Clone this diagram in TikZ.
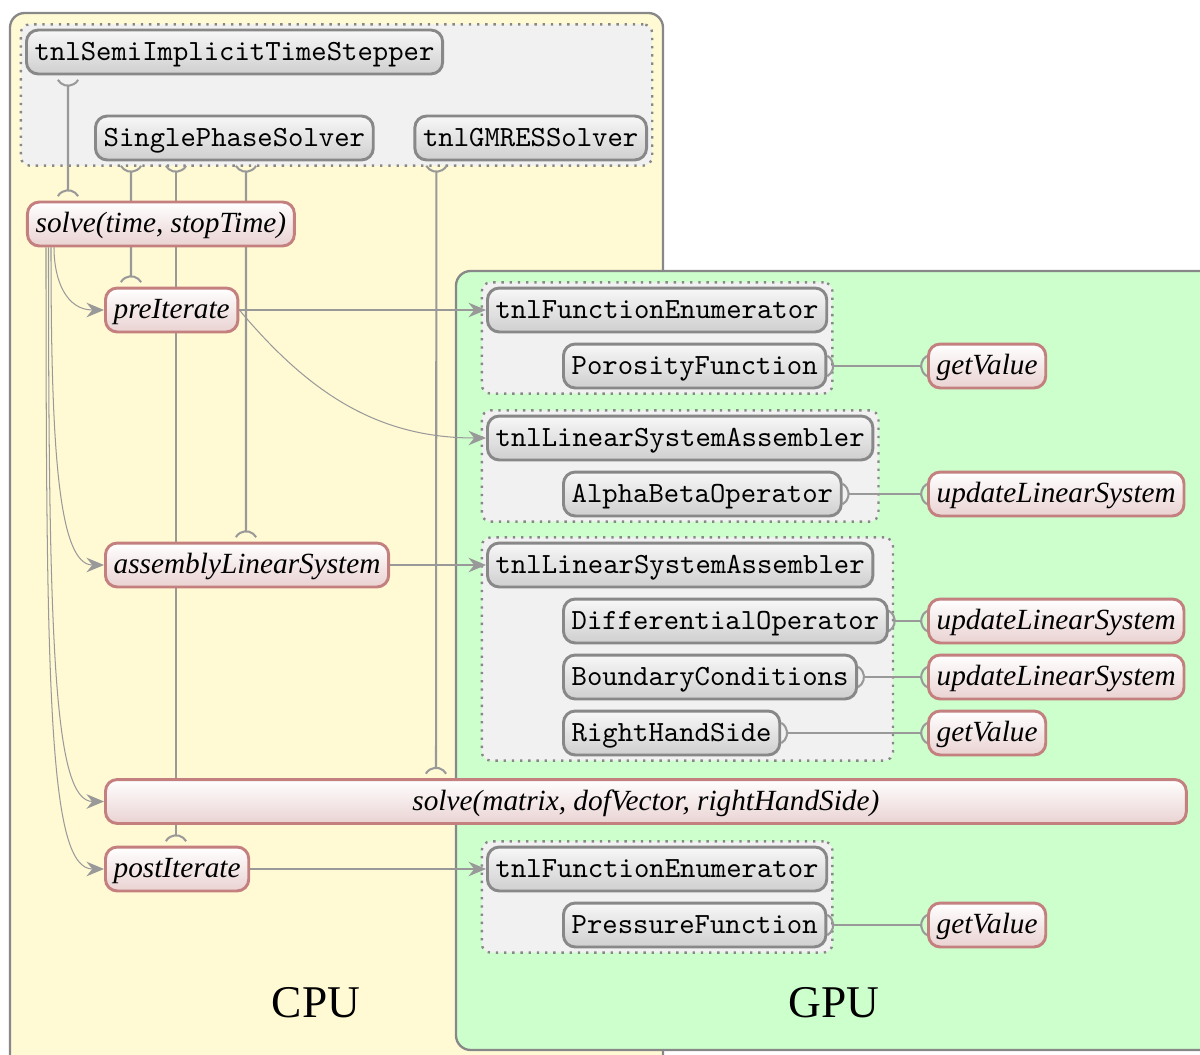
\documentclass[tikz,border=0pt]{standalone}
\usepackage{fontspec}
\setmainfont{Liberation Serif}
\usetikzlibrary{arrows.meta,positioning,fit,calc}

\definecolor{cpufill}{HTML}{FFFAD4}
\definecolor{gpufill}{HTML}{CCFFCC}
\definecolor{groupfill}{HTML}{F1F1F1}
\definecolor{boxline}{HTML}{888888}
\definecolor{wire}{HTML}{999999}
\definecolor{methodline}{HTML}{C47F7F}
\definecolor{methodshade}{HTML}{EAD2D2}
\definecolor{classshade}{HTML}{CFCFCF}

\pgfdeclarelayer{bg}
\pgfdeclarelayer{wires}
\pgfsetlayers{bg,wires,main}

% socket end: an arc of 120 degrees, opening towards the node
\pgfdeclarearrow{
  name = Socket,
  parameters = {\the\pgfarrowlength},
  setup code = {
    \pgfarrowssettipend{.5\pgfarrowlength}
    \pgfarrowssetlineend{0pt}
    \pgfarrowssetbackend{0pt}
    \pgfarrowsupperhullpoint{0pt}{.866\pgfarrowlength}
    \pgfarrowsupperhullpoint{.5\pgfarrowlength}{.866\pgfarrowlength}
    \pgfarrowssavethe\pgfarrowlength
  },
  drawing code = {
    \pgfsetdash{}{0pt}
    \pgfpathmoveto{\pgfqpoint{.5\pgfarrowlength}{.866\pgfarrowlength}}
    \pgfpatharc{120}{240}{\pgfarrowlength}
    \pgfusepathqstroke
  },
  defaults = {length = 4pt}
}

\tikzset{
  classbox/.style={draw=boxline, line width=1pt, rounded corners=4pt,
    top color=white!97!black, bottom color=classshade,
    font=\ttfamily, minimum height=15pt, inner xsep=2.8pt, inner ysep=0pt,
    text height=7pt, text depth=1pt},
  methodbox/.style={draw=methodline, line width=1pt, rounded corners=4pt,
    top color=white, bottom color=methodshade,
    font=\itshape, minimum height=15pt, inner xsep=2.8pt, inner ysep=0pt,
    text height=7pt, text depth=1pt},
  classgroup/.style={draw=boxline, dotted, line width=0.8pt, fill=groupfill,
    rounded corners=3pt, inner sep=0.05cm},
  device/.style={draw=boxline, line width=0.8pt, rounded corners=5pt},
  calls/.style={draw=wire, line width=0.35pt, -{Stealth[length=6pt,width=5pt,inset=2pt]}},
  uses/.style={draw=wire, line width=0.7pt, {Socket[length=4pt]}-{Socket[length=4pt]}},
  spaced/.style={shorten <=1.5pt, shorten >=1.5pt},
}

\begin{document}
\begin{tikzpicture}
  \useasboundingbox (0,0) rectangle (14.4,12.648);

  % CPU side: solver classes
  \node[classbox, anchor=west] (stepper) at (0.3,12.024) {tnlSemiImplicitTimeStepper};
  \node[classbox, anchor=west] (sps) at (1.128,10.992) {SinglePhaseSolver};
  \node[classbox, anchor=east] (gmres) at (7.776,10.992) {tnlGMRESSolver};

  % CPU side: methods
  \node[methodbox, anchor=west] (solvetime) at (0.312,9.96) {solve(time, stopTime)};
  \node[methodbox, anchor=west] (preit) at (1.248,8.928) {preIterate};
  \node[methodbox, anchor=west] (assembly) at (1.248,5.868) {assemblyLinearSystem};
  \node[methodbox, anchor=west, minimum width=12.97cm] (solvemat) at (1.248,3.03) {solve(matrix, dofVector, rightHandSide)};
  \node[methodbox, anchor=west] (postit) at (1.248,2.22) {postIterate};

  % GPU side
  \node[classbox, anchor=west] (enumA) at (5.832,8.928) {tnlFunctionEnumerator};
  \node[classbox, anchor=west] (porosity) at (6.744,8.256) {PorosityFunction};
  \node[methodbox, anchor=west] (poroval) at (11.124,8.256) {getValue};

  \node[classbox, anchor=west] (asmA) at (5.832,7.392) {tnlLinearSystemAssembler};
  \node[classbox, anchor=west] (alphabeta) at (6.744,6.72) {AlphaBetaOperator};
  \node[methodbox, anchor=west] (abupdate) at (11.124,6.72) {updateLinearSystem};

  \node[classbox, anchor=west] (asmB) at (5.832,5.868) {tnlLinearSystemAssembler};
  \node[classbox, anchor=west] (diffop) at (6.744,5.196) {DifferentialOperator};
  \node[methodbox, anchor=west] (diffupdate) at (11.124,5.196) {updateLinearSystem};
  \node[classbox, anchor=west] (bc) at (6.744,4.524) {BoundaryConditions};
  \node[methodbox, anchor=west] (bcupdate) at (11.124,4.524) {updateLinearSystem};
  \node[classbox, anchor=west] (rhs) at (6.744,3.852) {RightHandSide};
  \node[methodbox, anchor=west] (rhsval) at (11.124,3.852) {getValue};

  \node[classbox, anchor=west] (enumB) at (5.832,2.22) {tnlFunctionEnumerator};
  \node[classbox, anchor=west] (pressure) at (6.744,1.548) {PressureFunction};
  \node[methodbox, anchor=west] (pressval) at (11.124,1.548) {getValue};

  \node[font=\fontsize{15.5}{18}\selectfont] (cpu) at (3.792,0.612) {CPU};
  \node[font=\fontsize{15.5}{18}\selectfont] (gpu) at (10.008,0.612) {GPU};

  \begin{pgfonlayer}{bg}
    \draw[device, fill=cpufill] (0.12,-0.3) rectangle (7.956,12.492);
    \draw[device, fill=gpufill] (5.472,0.048) rectangle (14.7,9.396);
    \node[classgroup, fit=(stepper)(sps)(gmres)] (solvers) {};
    \node[classgroup, fit=(enumA)(porosity)] (poroenum) {};
    \node[classgroup, fit=(asmA)(alphabeta)] (abasm) {};
    \node[classgroup, fit=(asmB)(diffop)(bc)(rhs)] (mainasm) {};
    \node[classgroup, fit=(enumB)(pressure)] (pressenum) {};
  \end{pgfonlayer}

  \begin{pgfonlayer}{wires}
    % usage links
    \draw[uses, spaced] ([xshift=0.516cm]stepper.south west) -- ([xshift=0.504cm]solvetime.north west);
    \draw[uses, spaced] ([xshift=0.444cm]sps.south west) -- ([xshift=0.324cm]preit.north west);
    \draw[uses, spaced] ([xshift=0.984cm]sps.south west) -- ([xshift=0.864cm]postit.north west);
    \draw[uses, spaced] ([xshift=1.824cm]sps.south west) -- ([xshift=1.704cm]assembly.north west);
    \draw[uses, spaced] ([xshift=0.276cm]gmres.south west) -- ([xshift=3.984cm]solvemat.north west);
    \draw[uses] (porosity.east) -- (poroval.west);
    \draw[uses] (alphabeta.east) -- (abupdate.west);
    \draw[uses] (diffop.east) -- (diffupdate.west);
    \draw[uses] (bc.east) -- (bcupdate.west);
    \draw[uses] (rhs.east) -- (rhsval.west);
    \draw[uses] (pressure.east) -- (pressval.west);

    % call order
    \draw[calls] ([xshift=0.336cm]solvetime.south west) to[out=-90, in=180, out distance=0.4cm, in distance=0.45cm] (preit.west);
    \draw[calls] ([xshift=0.3cm]solvetime.south west) to[out=-90, in=180, out distance=2.4cm, in distance=0.55cm] (assembly.west);
    \draw[calls] ([xshift=0.27cm]solvetime.south west) to[out=-90, in=180, out distance=4.8cm, in distance=0.6cm] (solvemat.west);
    \draw[calls] ([xshift=0.24cm]solvetime.south west) to[out=-90, in=180, out distance=5.5cm, in distance=0.65cm] (postit.west);
    \draw[calls] (preit.east) -- (enumA.west);
    \draw[calls] (preit.east) to[out=-50, in=180] (asmA.west);
    \draw[calls] (assembly.east) -- (asmB.west);
    \draw[calls] (postit.east) -- (enumB.west);
  \end{pgfonlayer}
\end{tikzpicture}
\end{document}
